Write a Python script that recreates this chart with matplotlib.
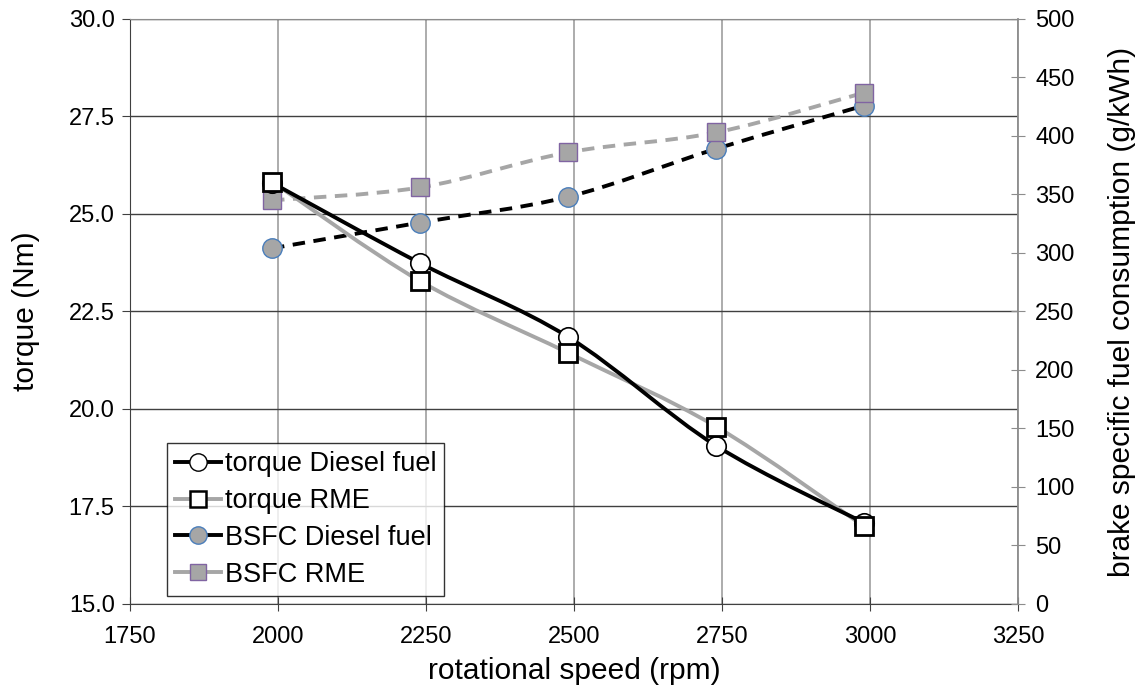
import numpy as np
import matplotlib
matplotlib.use("Agg")
import matplotlib.pyplot as plt
from matplotlib.path import Path
from matplotlib.patches import PathPatch
from matplotlib.lines import Line2D

plt.rcParams["font.family"] = ["Liberation Sans", "DejaVu Sans"]

speed = [1990, 2240, 2490, 2740, 2990]
torque_diesel = [25.8, 23.74, 21.85, 19.06, 17.08]
torque_rme = [25.83, 23.28, 21.44, 19.55, 16.99]
bsfc_diesel = [304, 326, 348, 389, 426]
bsfc_rme = [345, 356, 386, 403, 437]


def smooth_path(xs, ys):
    # Bezier path through the points, like a spreadsheet "smoothed line"
    p = np.column_stack([xs, ys]).astype(float)
    verts = [p[0]]
    codes = [Path.MOVETO]
    n = len(p)
    for i in range(n - 1):
        p0 = p[i - 1] if i > 0 else p[i]
        p3 = p[i + 2] if i + 2 < n else p[i + 1]
        c1 = p[i] + (p[i + 1] - p0) / 6.0
        c2 = p[i + 1] - (p3 - p[i]) / 6.0
        verts += [c1, c2, p[i + 1]]
        codes += [Path.CURVE4] * 3
    return Path(verts, codes)


fig = plt.figure(figsize=(11.45, 6.88), dpi=100)
ax = fig.add_axes([0.1135, 0.1221, 0.7755, 0.8503])
ax2 = ax.twinx()

ax.set_xlim(1750, 3250)
ax.set_ylim(15, 30)
ax2.set_ylim(0, 500)
ax.set_xticks(np.arange(1750, 3251, 250))
ax.set_yticks(np.arange(15, 30.1, 2.5))
ax.set_yticklabels([f"{v:.1f}" for v in np.arange(15, 30.1, 2.5)])
ax2.set_yticks(np.arange(0, 501, 50))

ax.grid(axis="x", color="#a6a6a6", linewidth=1.3)
ax.grid(axis="y", color="#404040", linewidth=1.0)
ax.set_axisbelow(True)

for s in ["left", "bottom"]:
    ax.spines[s].set_color("#404040")
ax.spines["top"].set_color("#8c8c8c")
ax.spines["right"].set_visible(False)
for s in ["left", "top", "bottom"]:
    ax2.spines[s].set_visible(False)
ax2.spines["right"].set_color("#8c8c8c")
ax2.spines["right"].set_linewidth(1.3)

ax.tick_params(axis="y", direction="out", length=6, color="#404040", labelsize=17, pad=5)
ax.tick_params(axis="x", direction="inout", length=10, color="#404040", labelsize=17, pad=11)
ax2.tick_params(axis="y", direction="inout", length=10, color="#8c8c8c", labelsize=17, pad=7.5)

ax.set_xlabel("rotational speed (rpm)", fontsize=21.5, labelpad=6)
ax.set_ylabel("torque (Nm)", fontsize=21.5, labelpad=21)
ax2.set_ylabel("brake specific fuel consumption (g/kWh)", fontsize=21.5, labelpad=24)

# smoothed lines
ax2.add_patch(PathPatch(smooth_path(speed, bsfc_rme), transform=ax2.transData,
                        fill=False, edgecolor="#a6a6a6", linewidth=2.8,
                        linestyle=(0, (3.2, 2.2)), zorder=2))
ax2.add_patch(PathPatch(smooth_path(speed, bsfc_diesel), transform=ax2.transData,
                        fill=False, edgecolor="black", linewidth=2.8,
                        linestyle=(0, (3.2, 2.2)), zorder=2))
ax2.add_patch(PathPatch(smooth_path(speed, torque_rme), transform=ax.transData,
                        fill=False, edgecolor="#a6a6a6", linewidth=2.8, zorder=2))
ax2.add_patch(PathPatch(smooth_path(speed, torque_diesel), transform=ax.transData,
                        fill=False, edgecolor="black", linewidth=2.8, zorder=2))

# markers
ax2.plot(speed, bsfc_diesel, linestyle="none", marker="o", markersize=14,
         markerfacecolor="#a6a6a6", markeredgecolor="#4a7ebb", markeredgewidth=1.0, zorder=3)
ax2.plot(speed, bsfc_rme, linestyle="none", marker="s", markersize=13.5,
         markerfacecolor="#a6a6a6", markeredgecolor="#8064a2", markeredgewidth=1.0, zorder=3)
ax2.plot(speed, torque_diesel, transform=ax.transData, linestyle="none", marker="o",
         markersize=14, markerfacecolor="white", markeredgecolor="black",
         markeredgewidth=1.2, zorder=4)
ax2.plot(speed, torque_rme, transform=ax.transData, linestyle="none", marker="s",
         markersize=13.5, markerfacecolor="white", markeredgecolor="black",
         markeredgewidth=2.0, zorder=4)
ax2.set_ylim(0, 500)

handles = [
    Line2D([], [], color="black", linewidth=2.8, marker="o", markersize=12.5,
           markerfacecolor="white", markeredgecolor="black"),
    Line2D([], [], color="#a6a6a6", linewidth=2.8, marker="s", markersize=12,
           markerfacecolor="white", markeredgecolor="black", markeredgewidth=1.8),
    Line2D([], [], color="black", linewidth=2.8, marker="o", markersize=12.5,
           markerfacecolor="#a6a6a6", markeredgecolor="#4a7ebb"),
    Line2D([], [], color="#a6a6a6", linewidth=2.8, marker="s", markersize=12,
           markerfacecolor="#a6a6a6", markeredgecolor="#8064a2"),
]
labels = ["torque Diesel fuel", "torque RME", "BSFC Diesel fuel", "BSFC RME"]
leg = ax2.legend(handles, labels, loc="lower left", bbox_to_anchor=(0.042, 0.014),
                 fontsize=19.5, frameon=True, fancybox=False, edgecolor="black",
                 handlelength=1.7, handletextpad=0.12, borderpad=0.3,
                 labelspacing=0.4, borderaxespad=0)
leg.get_frame().set_linewidth(1.0)
leg.set_zorder(10)

fig.savefig("out.png", dpi=100)
